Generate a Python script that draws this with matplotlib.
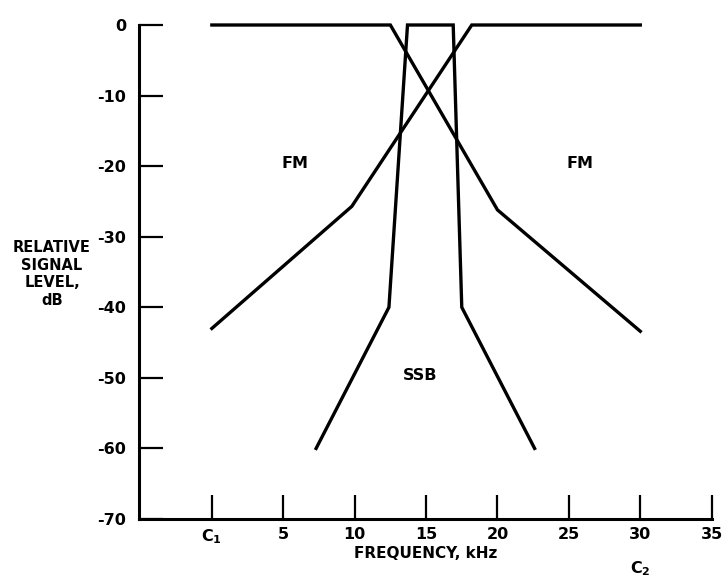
import matplotlib
matplotlib.use("Agg")
import matplotlib.pyplot as plt

# Data (frequency kHz, relative level dB)
fm_left_x = [0, 12.5, 20.0, 30.0]
fm_left_y = [0, 0, -26.2, -43.4]
fm_right_x = [0, 9.8, 18.2, 30.0]
fm_right_y = [-43.0, -25.7, 0, 0]
ssb_x = [7.3, 12.4, 13.7, 16.9, 17.5, 22.6]
ssb_y = [-60, -40, 0, 0, -40, -60]

x_ticks = [0, 5, 10, 15, 20, 25, 30, 35]
x_ticklabels = ["C$_1$", "5", "10", "15", "20", "25", "30", "35"]
y_ticks = [0, -10, -20, -30, -40, -50, -60, -70]
y_ticklabels = ["0", "-10", "-20", "-30", "-40", "-50", "-60", "-70"]

plt.rcParams['font.family'] = ['DejaVu Sans']
plt.rcParams['mathtext.fontset'] = 'dejavusans'
plt.rcParams['mathtext.default'] = 'bf'

fig = plt.figure(figsize=(7.26, 5.8), dpi=100)
ax = fig.add_axes([139/726, 1-519/580, (711.7-139)/726, (519-25)/580])

lw = 2.4
for xs, ys in [(fm_left_x, fm_left_y), (fm_right_x, fm_right_y), (ssb_x, ssb_y)]:
    ax.plot(xs, ys, color='black', lw=lw, clip_on=False, solid_joinstyle='miter')

ax.set_xlim(-5.1, 35)
ax.set_ylim(-70, 0)
for s in ['top', 'right']:
    ax.spines[s].set_visible(False)
for s in ['left', 'bottom']:
    ax.spines[s].set_linewidth(2.2)

fs = 11.5
ax.set_xticks(x_ticks)
ax.set_xticklabels(x_ticklabels)
ax.set_yticks(y_ticks)
ax.set_yticklabels(y_ticklabels)
ax.tick_params(axis='both', direction='in', length=17.5, width=1.6, labelsize=fs)
ax.tick_params(axis='x', pad=6)
ax.tick_params(axis='y', pad=9)
for t in ax.get_xticklabels() + ax.get_yticklabels():
    t.set_fontweight('bold')

ax.text(5.8, -19.6, "FM", ha='center', va='center', fontsize=fs, fontweight='bold')
ax.text(25.8, -19.6, "FM", ha='center', va='center', fontsize=fs, fontweight='bold')
ax.text(14.6, -49.6, "SSB", ha='center', va='center', fontsize=fs, fontweight='bold')

ax.annotate("FREQUENCY, kHz", xy=(15, 0), xycoords=('data', 'figure pixels'),
            xytext=(15, 580-554), textcoords=('data', 'figure pixels'),
            ha='center', va='center', fontsize=11, fontweight='bold', annotation_clip=False)
ax.annotate("C$_2$", xy=(30, 0), xycoords=('data', 'figure pixels'),
            xytext=(30, 580-569), textcoords=('data', 'figure pixels'),
            ha='center', va='center', fontsize=fs, fontweight='bold', annotation_clip=False)

fig.text(52/726, 1-274/580, "RELATIVE\nSIGNAL\nLEVEL,\ndB", ha='center', va='center',
         fontsize=10.5, fontweight='bold', linespacing=1.2)

fig.savefig("out.png", dpi=100)
